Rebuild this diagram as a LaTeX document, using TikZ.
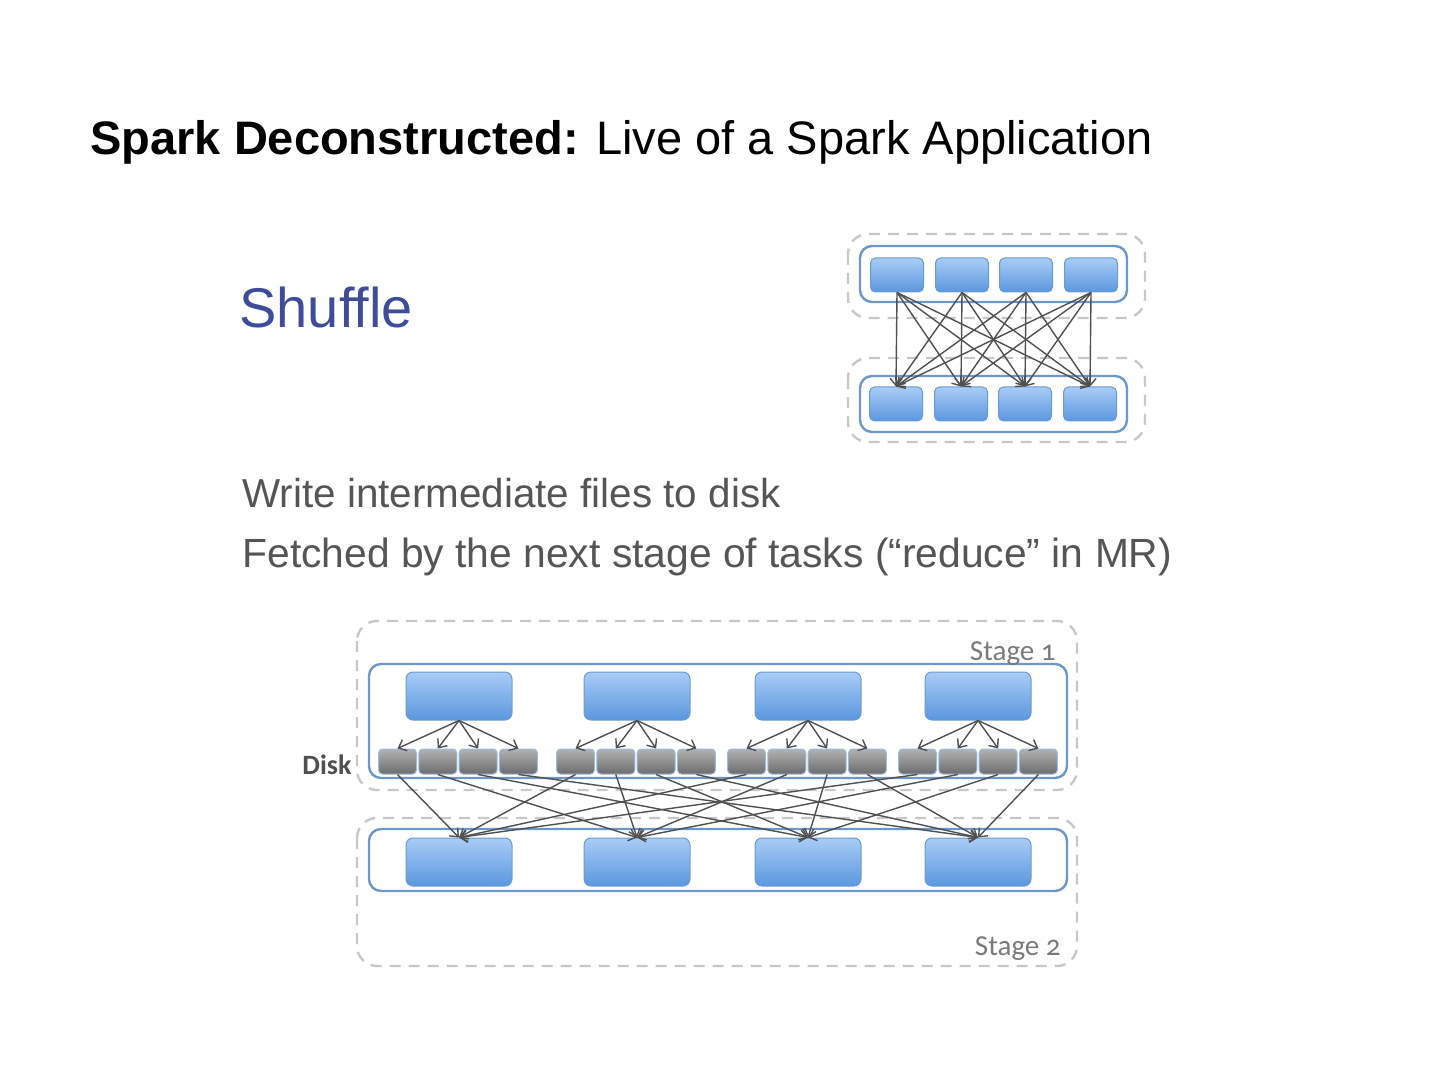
\documentclass[tikz,border=0pt]{standalone}
\usepackage{fontspec}
\setmainfont{Liberation Sans}
\newfontfamily\calib[Numbers=OldStyle]{Carlito}
\usetikzlibrary{arrows.meta}
\definecolor{boxtop}{HTML}{A9CCF6}
\definecolor{boxbot}{HTML}{5A97DE}
\definecolor{boxedge}{HTML}{6A9BD2}
\definecolor{disktop}{HTML}{B2B2B2}
\definecolor{diskbot}{HTML}{6C6C6C}
\definecolor{diskedge}{HTML}{9CBBE0}
\definecolor{contblue}{HTML}{6C98C9}
\definecolor{dashgray}{HTML}{C8C8C8}
\definecolor{arrgray}{HTML}{505050}
\definecolor{shufblue}{HTML}{3E4C9A}
\definecolor{bodygray}{HTML}{555555}
\definecolor{stagegray}{HTML}{7A7A7A}
\begin{document}
\begin{tikzpicture}[x=0.5pt,y=-0.5pt,
  tbox/.style={draw=boxedge, line width=0.5pt, rounded corners=2.5pt, top color=boxtop, bottom color=boxbot, minimum width=26.5pt, minimum height=17pt, inner sep=0pt},
  mbox/.style={draw=boxedge, line width=0.5pt, rounded corners=3.5pt, top color=boxtop, bottom color=boxbot, minimum width=53pt, minimum height=24pt, inner sep=0pt},
  dbox/.style={draw=diskedge, line width=0.5pt, rounded corners=2pt, top color=disktop, bottom color=diskbot, minimum width=19pt, minimum height=12.5pt, inner sep=0pt},
  container/.style={draw=contblue, line width=1.2pt, rounded corners=6pt},
  dashbox/.style={draw=dashgray, line width=1.2pt, dash pattern=on 5.5pt off 4pt, rounded corners=10pt},
  arr/.style={draw=arrgray, line width=0.7pt, -{Straight Barb[length=3.5pt,width=6pt]}},
  stagelbl/.style={font=\calib\fontsize{14.5}{17}\selectfont, text=stagegray, inner sep=0pt}
]
\useasboundingbox (0,0) rectangle (1440,1080);

% Title
\node[anchor=base west, inner sep=0pt, font=\fontsize{23.5}{28}\selectfont] (title) at (90,155) {\textbf{Spark Deconstructed:} Live of a Spark Application};

% Shuffle heading and text
\node[anchor=base west, inner sep=0pt, text=shufblue, font=\fontsize{28}{33}\selectfont] (shuffle) at (239,328) {Shuffle};
\node[anchor=base west, inner sep=0pt, text=bodygray, font=\fontsize{20.2}{24}\selectfont] (line1) at (242,508) {Write intermediate files to disk};
\node[anchor=base west, inner sep=0pt, text=bodygray, font=\fontsize{20.4}{24}\selectfont] (line2) at (242,567) {Fetched by the next stage of tasks (“reduce” in MR)};

% ---- small diagram (top right)
\draw[dashbox] (848,234) rectangle (1145,318);
\draw[dashbox] (848,358) rectangle (1145,442);
\draw[container] (860,246) rectangle (1127,302);
\draw[container] (860,376) rectangle (1127,432);
\foreach \i/\x in {1/897,2/962,3/1026,4/1091} {
  \node[tbox] (t\i) at (\x,275) {};
  \node[tbox] (b\i) at (\x-1,404) {};
}
\foreach \i in {1,...,4} \foreach \j in {1,...,4} \draw[arr] (t\i.south) -- (b\j.north);

% ---- big diagram
\draw[dashbox] (357,621) rectangle (1077,790);
\draw[dashbox] (357,818) rectangle (1077,966);
\draw[container] (369,664) rectangle (1067,778);
\draw[container] (369,829) rectangle (1067,891);
\node[stagelbl, anchor=base east] (s1) at (1056,660) {Stage 1};
\node[stagelbl, anchor=base east] (s2) at (1061,955) {Stage 2};
\node[anchor=east, inner sep=0pt, text=arrgray, font=\calib\bfseries\fontsize{14}{17}\selectfont] (disk) at (352,765) {Disk};

\foreach \m/\x in {1/459,2/637,3/808,4/978} {
  \node[mbox] (m\m) at (\x,696) {};
  \node[mbox] (r\m) at (\x,862) {};
}
\foreach \m/\g in {1/378,2/556,3/727,4/898}
  \foreach \j in {1,...,4}
    \node[dbox] (d\m\j) at ({\g+19.5+(\j-1)*40.3},761.5) {};

\foreach \m in {1,...,4} \foreach \j in {1,...,4} {
  \draw[arr] (m\m.south) -- (d\m\j.north);
  \draw[arr] (d\m\j.south) -- (r\j.north);
}
\end{tikzpicture}
\end{document}
